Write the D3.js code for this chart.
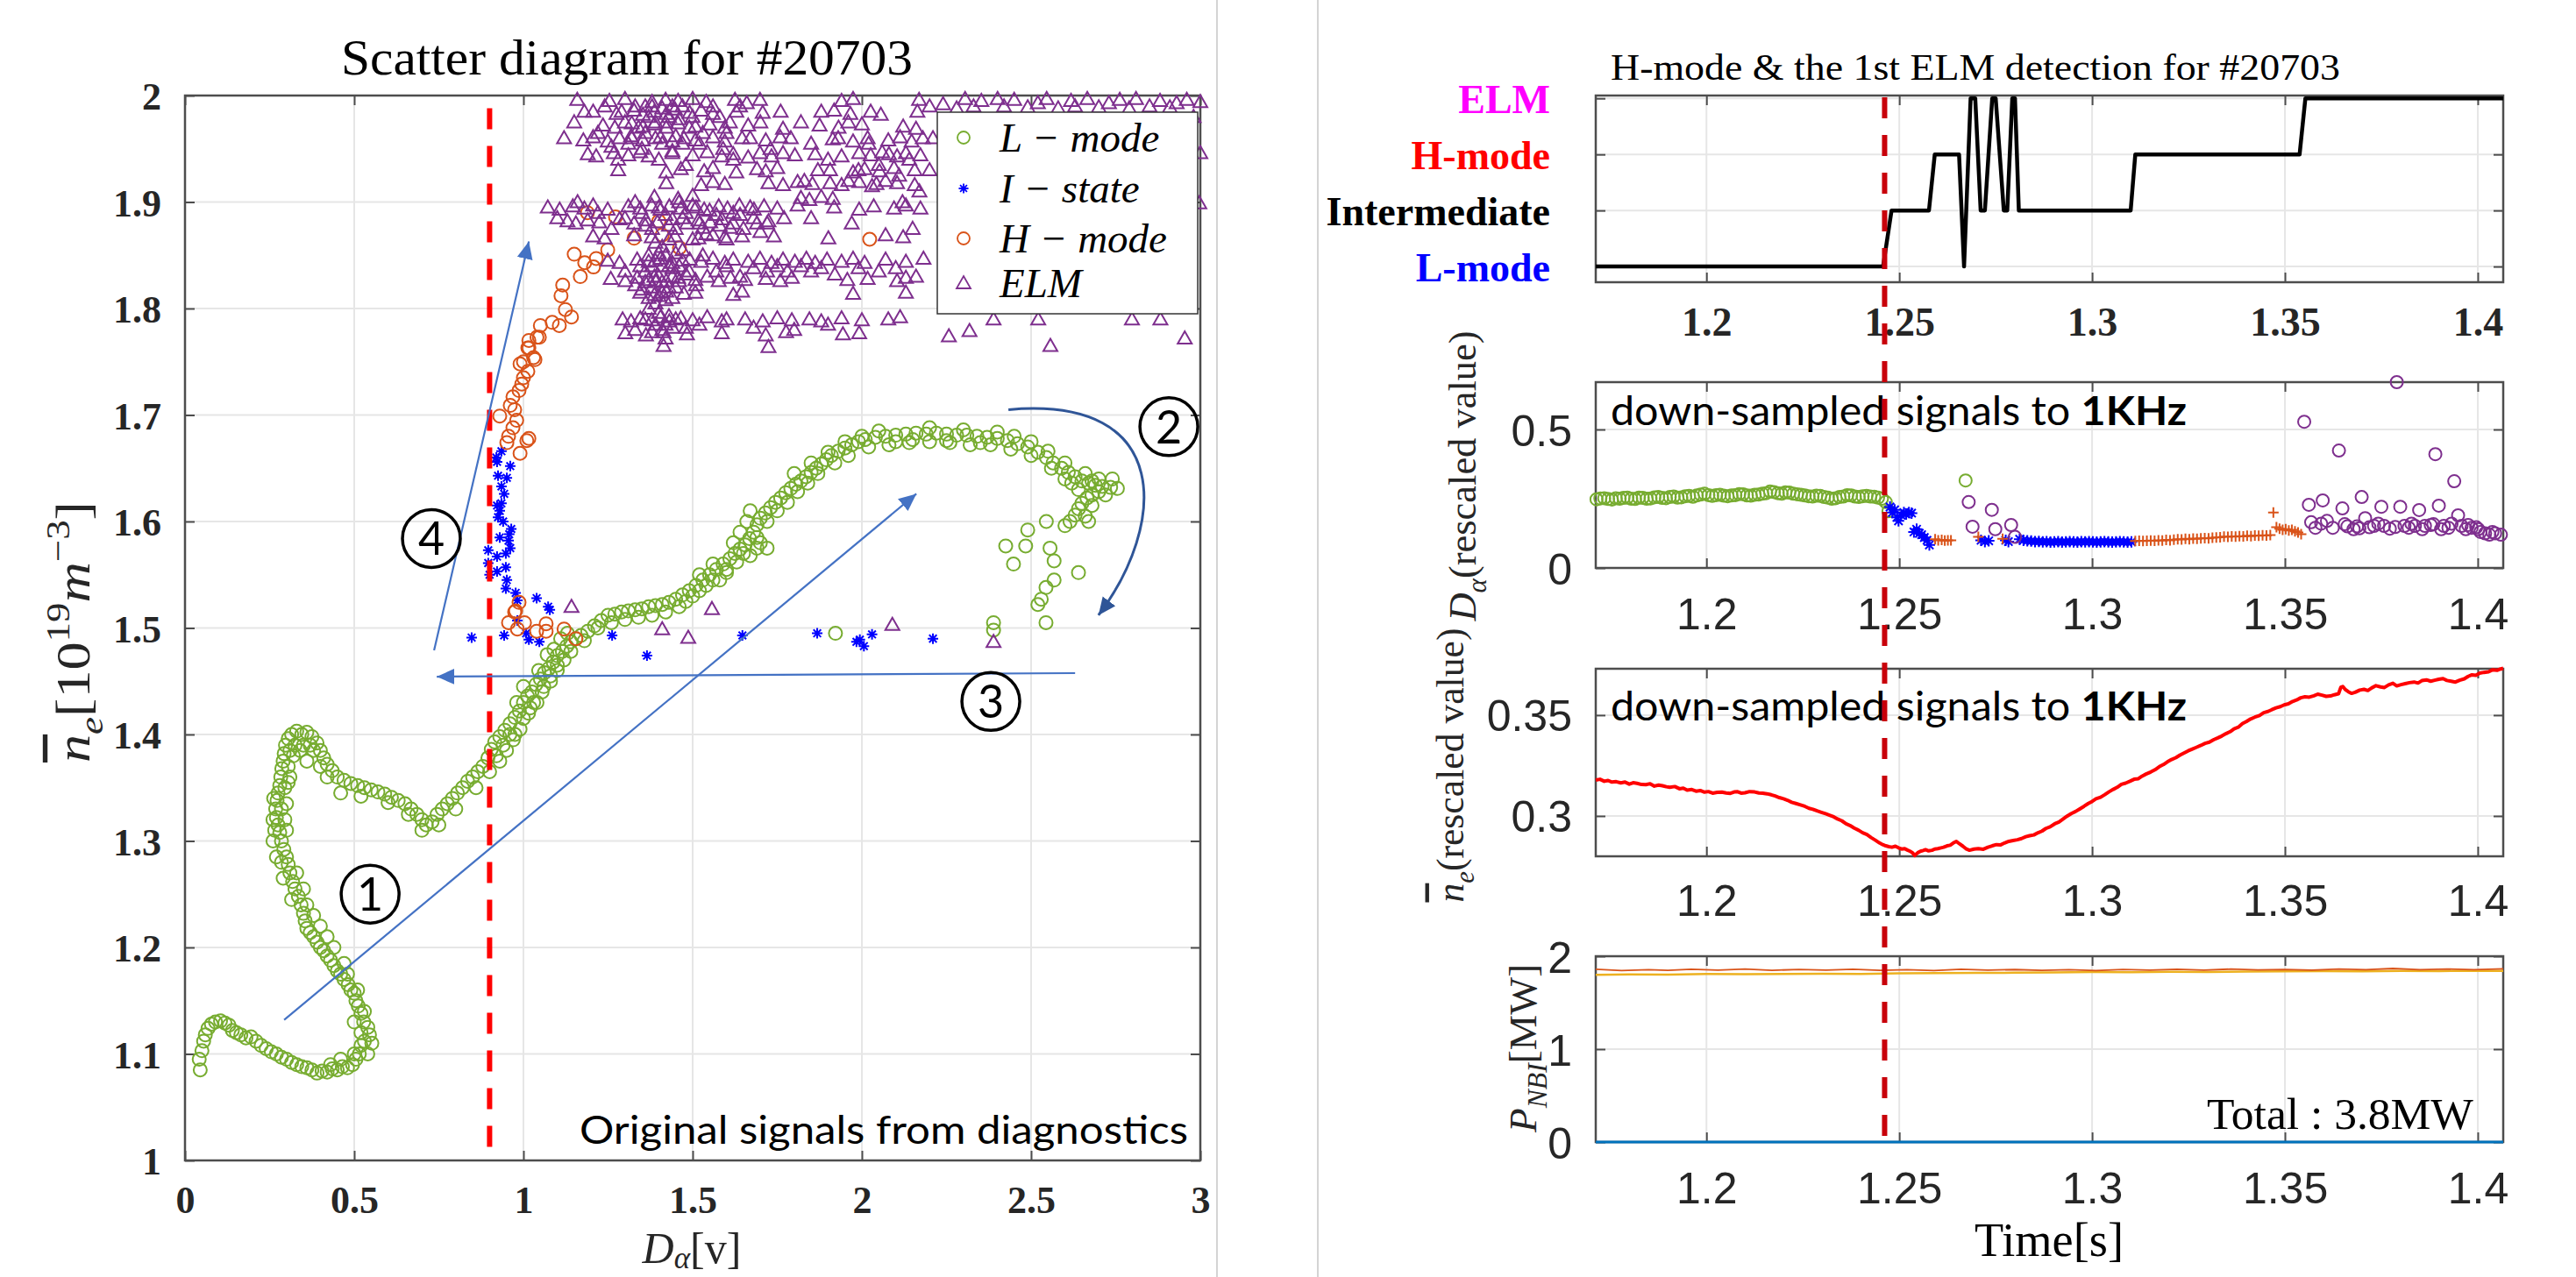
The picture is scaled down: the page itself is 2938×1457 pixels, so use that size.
<!DOCTYPE html>
<html lang="en">
<head>
<meta charset="UTF-8">
<title>Scatter diagram for #20703</title>
<script src="https://d3js.org/d3.v7.min.js"></script>
<style>
  body { margin: 0; background: #fff; }
</style>
</head>
<body>
<div id="chart"></div>
<script>
// ---------- left panel: scatter (D_alpha vs n_e) ----------
var scatterX = [0, 0.5, 1, 1.5, 2, 2.5, 3];
var scatterY = [1, 1.1, 1.2, 1.3, 1.4, 1.5, 1.6, 1.7, 1.8, 1.9, 2];
var legendNames = ["L − mode", "I − state", "H − mode", "ELM"];

var lMode = [
  [0.045,1.085],[0.042,1.095],[0.05,1.103],[0.055,1.112],[0.06,1.118],[0.068,1.124],[0.078,1.128],[0.09,1.13],[0.105,1.131],[0.118,1.129],
  [0.13,1.127],[0.14,1.122],[0.152,1.12],[0.165,1.118],[0.18,1.115],[0.195,1.116],[0.21,1.112],[0.225,1.108],[0.24,1.105],[0.255,1.102],
  [0.27,1.1],[0.285,1.097],[0.3,1.095],[0.315,1.092],[0.33,1.09],[0.345,1.088],[0.36,1.087],[0.375,1.085],[0.39,1.082],[0.405,1.084],
  [0.42,1.083],[0.435,1.086],[0.45,1.085],[0.465,1.088],[0.48,1.087],[0.495,1.09],[0.505,1.095],[0.515,1.1],[0.52,1.108],[0.53,1.112],
  [0.545,1.118],[0.552,1.11],[0.54,1.125],[0.528,1.13],[0.52,1.138],[0.512,1.145],[0.505,1.15],[0.5,1.157],[0.49,1.16],[0.482,1.165],
  [0.47,1.17],[0.46,1.175],[0.45,1.178],[0.44,1.183],[0.43,1.188],[0.42,1.192],[0.41,1.197],[0.4,1.2],[0.39,1.205],[0.38,1.21],
  [0.37,1.214],[0.36,1.218],[0.355,1.225],[0.35,1.232],[0.343,1.24],[0.335,1.248],[0.325,1.255],[0.318,1.262],[0.31,1.27],[0.305,1.278],
  [0.3,1.285],[0.292,1.292],[0.285,1.3],[0.28,1.308],[0.275,1.315],[0.27,1.322],[0.268,1.33],[0.272,1.338],[0.275,1.345],[0.28,1.352],
  [0.283,1.36],[0.286,1.368],[0.29,1.375],[0.293,1.382],[0.297,1.39],[0.305,1.396],[0.315,1.4],[0.33,1.403],[0.345,1.4],[0.36,1.402],
  [0.375,1.398],[0.39,1.392],[0.4,1.385],[0.41,1.378],[0.42,1.372],[0.435,1.366],[0.45,1.36],[0.47,1.357],[0.49,1.354],[0.51,1.352],
  [0.53,1.35],[0.55,1.348],[0.57,1.346],[0.59,1.344],[0.61,1.341],[0.63,1.338],[0.65,1.335],[0.668,1.33],[0.685,1.325],[0.7,1.32],
  [0.713,1.315],[0.73,1.318],[0.745,1.325],[0.76,1.33],[0.775,1.335],[0.79,1.34],[0.805,1.345],[0.82,1.35],[0.835,1.356],[0.85,1.36],
  [0.865,1.365],[0.88,1.37],[0.895,1.378],[0.905,1.386],[0.915,1.393],[0.93,1.398],[0.945,1.404],[0.96,1.41],[0.975,1.416],[0.988,1.422],
  [1.0,1.43],[1.012,1.436],[1.025,1.44],[1.037,1.447],[1.05,1.452],[1.062,1.458],[1.075,1.462],[1.088,1.468],[1.1,1.474],[1.115,1.478],
  [1.128,1.483],[1.14,1.487],[1.155,1.49],[1.17,1.493],[1.19,1.497],[1.21,1.502],[1.23,1.507],[1.25,1.512],[1.27,1.513],[1.29,1.515],
  [1.31,1.516],[1.33,1.517],[1.35,1.518],[1.37,1.52],[1.39,1.521],[1.41,1.522],[1.43,1.524],[1.45,1.527],[1.47,1.531],[1.49,1.535],
  [1.51,1.54],[1.53,1.545],[1.55,1.55],[1.57,1.555],[1.59,1.56],[1.61,1.565],[1.625,1.57],[1.64,1.574],[1.655,1.578],[1.668,1.584],
  [1.68,1.59],[1.69,1.597],[1.7,1.603],[1.715,1.608],[1.73,1.613],[1.745,1.618],[1.76,1.622],[1.775,1.627],[1.79,1.631],[1.805,1.635],
  [1.82,1.638],[1.835,1.642],[1.85,1.646],[1.865,1.65],[1.88,1.654],[1.895,1.658],[1.91,1.662],[1.93,1.666],[1.95,1.669],[1.97,1.672],
  [1.99,1.675],[2.01,1.677],[2.04,1.679],[2.07,1.68],[2.1,1.681],[2.13,1.682],[2.16,1.683],[2.19,1.682],[2.22,1.683],[2.25,1.682],
  [2.28,1.681],[2.31,1.681],[2.34,1.68],[2.37,1.679],[2.4,1.678],[2.43,1.676],[2.46,1.673],[2.49,1.67],[2.52,1.665],[2.545,1.66],
  [2.565,1.655],[2.59,1.65],[2.61,1.646],[2.63,1.642],[2.65,1.638],[2.67,1.636],[2.69,1.634],[2.71,1.633],[2.735,1.632],[2.755,1.631],
  [2.7,1.628],[2.68,1.625],[2.665,1.622],[2.65,1.617],[2.64,1.612],[2.63,1.606],[2.615,1.6],[2.6,1.596],
  [2.545,1.6],[2.49,1.592],[2.425,1.577],[2.484,1.577],[2.556,1.575],[2.568,1.563],[2.448,1.56],[2.64,1.552],[2.568,1.545],[2.544,1.538],
  [2.53,1.527],[2.52,1.522],[2.544,1.505],[2.389,1.505],[2.389,1.498],[1.922,1.495],
  [0.29,1.265],[0.315,1.245],[0.3,1.31],[0.285,1.33],[0.295,1.35],[0.305,1.37],[0.31,1.385],[0.325,1.39],[0.35,1.39],[0.38,1.385],
  [0.295,1.32],[0.26,1.3],[0.27,1.285],[0.285,1.28],[0.92,1.38],[0.94,1.39],[0.96,1.4],[0.97,1.395],[1.0,1.415],[1.02,1.425],
  [1.04,1.43],[1.06,1.445],[1.08,1.45],[1.1,1.46],[1.12,1.47],[1.045,1.46],[1.07,1.475],[1.09,1.48],[1.11,1.49],[1.13,1.495],
  [0.98,1.43],[1.0,1.445],[1.5,1.53],[1.52,1.55],[1.54,1.54],[1.56,1.56],[1.58,1.545],[1.6,1.555],[1.62,1.58],[1.64,1.59],
  [1.66,1.6],[1.67,1.61],[1.69,1.575],[1.7,1.58],[1.72,1.575],[1.67,1.568],[1.8,1.645],[1.85,1.655],[1.9,1.665],[1.95,1.675],
  [2.0,1.68],[2.05,1.685],[2.1,1.675],[2.15,1.677],[2.2,1.688],[2.25,1.676],[2.3,1.686],[2.35,1.674],[2.4,1.684],[2.45,1.68],
  [2.5,1.675],[2.55,1.666],[2.6,1.655],[2.62,1.636],[2.66,1.645],[2.7,1.64],[2.68,1.615],[2.66,1.605],
  [0.43,1.09],[0.46,1.095],[0.5,1.1],[0.52,1.12],[0.53,1.14],[0.51,1.16],[0.5,1.13],[0.54,1.1],[0.48,1.175],[0.47,1.185],
  [0.44,1.2],[0.42,1.21],[0.4,1.22],[0.38,1.23],[0.36,1.24],[0.35,1.255],[0.33,1.27],
  [0.26,1.32],[0.262,1.34],[0.265,1.31],[0.3,1.335],[0.305,1.355],[0.31,1.36],[0.32,1.38],[0.34,1.385],[0.37,1.39],[0.36,1.375],
  [0.4,1.37],[0.42,1.36],[0.46,1.345],[0.52,1.342],[0.6,1.336],[0.66,1.325],[0.7,1.31],[0.75,1.315],[0.8,1.33],[0.86,1.35],
  [0.9,1.365],[0.93,1.375],[0.95,1.385],[0.975,1.4],[0.99,1.405],[1.015,1.42],[1.03,1.43],[1.055,1.44],[1.08,1.455],[1.1,1.465],
  [1.14,1.478],[1.18,1.488],[1.22,1.5],[1.26,1.505],[1.3,1.508],[1.34,1.51],[1.38,1.512],[1.42,1.515],[1.46,1.52],[1.48,1.525],
  [1.52,1.535],[1.56,1.545],[1.6,1.552],[1.63,1.562],[1.65,1.57],[1.69,1.585],[1.72,1.6],[1.75,1.61],[1.78,1.618],[1.81,1.628],
  [1.84,1.636],[1.87,1.645],[1.92,1.655],[1.96,1.662],[2.02,1.67],[2.08,1.672],[2.14,1.674],[2.2,1.675],[2.26,1.674],[2.32,1.672],
  [2.38,1.672],[2.44,1.668],[2.5,1.662],[2.56,1.65],[2.6,1.64],[2.64,1.63],[2.68,1.638],[2.72,1.625],[2.74,1.64],[2.67,1.6]
];

var iState = [
  [0.935,1.666],[0.92,1.66],[0.922,1.656],[0.961,1.652],[0.925,1.643],[0.951,1.641],[0.935,1.633],[0.943,1.626],[0.922,1.615],[0.935,1.617],
  [0.925,1.604],[0.93,1.61],[0.964,1.593],[0.958,1.588],[0.956,1.582],[0.961,1.575],[0.896,1.573],[0.922,1.567],[0.948,1.57],[0.896,1.561],
  [0.922,1.553],[0.948,1.557],[0.951,1.545],[0.948,1.537],[0.977,1.533],[1.039,1.528],[0.982,1.526],[1.073,1.52],[1.078,1.517],[0.982,1.507],
  [0.847,1.491],[0.943,1.493],[1.008,1.495],[1.016,1.489],[1.047,1.487],[1.262,1.493],[1.365,1.474],[1.647,1.493],[1.868,1.495],[1.984,1.487],
  [1.994,1.489],[2.006,1.483],[2.03,1.494],[2.21,1.49],[0.9,1.55],[0.94,1.6],[0.93,1.585]
];

var hMode = [
  [1.047,1.773],[1.016,1.763],[1.034,1.752],[1.0,1.75],[1.013,1.741],[0.995,1.729],[0.987,1.723],[0.969,1.717],[0.961,1.709],[0.974,1.705],
  [0.93,1.699],[0.969,1.688],[0.956,1.68],[1.016,1.678],[0.99,1.664],[0.951,1.674],[1.01,1.676],[0.977,1.516],[0.956,1.505],[0.982,1.499],
  [1.003,1.505],[1.039,1.497],[1.067,1.504],[1.067,1.497],[1.12,1.499],[1.155,1.49],[0.987,1.524],[0.974,1.515],[0.99,1.748],[1.03,1.754],
  [1.013,1.763],[1.04,1.773],[1.05,1.784],[1.085,1.787],[1.106,1.784],[1.124,1.799],[1.142,1.792],[1.111,1.812],[1.116,1.822],[1.168,1.83],
  [1.15,1.851],[1.181,1.843],[1.207,1.839],[1.215,1.847],[1.249,1.855],[1.327,1.866],[1.41,1.869],[1.461,1.857],[1.189,1.89],[1.272,1.886],
  [1.40,1.882],[2.023,1.865],[1.016,1.77],[1.0,1.735],[0.98,1.695]
];

var elm = [
  [1.159,1.996],[1.254,1.995],[1.30,1.997],[1.38,1.994],[1.42,1.996],[1.457,1.995],[1.50,1.997],[1.54,1.994],[1.625,1.996],[1.66,1.993],
  [1.699,1.996],[1.94,1.995],[1.974,1.997],[2.169,1.996],[2.305,1.997],[2.353,1.995],[2.401,1.997],[2.45,1.996],[2.546,1.997],[2.618,1.995],
  [2.666,1.997],[2.762,1.996],[2.81,1.997],[2.881,1.995],[2.96,1.996],[3.0,1.994],
  [1.206,1.985],[1.275,1.983],[1.327,1.986],[1.353,1.982],[1.387,1.985],[1.422,1.983],[1.448,1.987],[1.491,1.984],[1.525,1.986],[1.56,1.983],
  [1.629,1.985],[1.707,1.984],[1.918,1.986],[1.966,1.983],[2.026,1.985],[2.056,1.982],[2.164,1.985],[2.28,1.988],[2.49,1.989],[2.58,1.988],
  [2.70,1.989],[2.79,1.988],[2.91,1.989],[2.98,1.98],
  [1.235,1.972],[1.27,1.97],[1.32,1.974],[1.353,1.971],[1.387,1.973],[1.422,1.97],[1.457,1.974],[1.508,1.971],[1.55,1.973],[1.595,1.97],
  [1.664,1.972],[1.767,1.969],[1.875,1.972],[1.931,1.97],[2.0,1.973],[2.122,1.971],[2.16,1.969],
  [1.12,1.96],[1.177,1.958],[1.206,1.961],[1.249,1.957],[1.284,1.96],[1.318,1.962],[1.353,1.958],[1.405,1.961],[1.44,1.957],[1.474,1.96],
  [1.508,1.958],[1.56,1.961],[1.595,1.957],[1.646,1.96],[1.716,1.958],[1.759,1.961],[1.914,1.959],[1.974,1.957],[2.017,1.96],[2.078,1.958],
  [2.113,1.961],[2.147,1.957],
  [1.19,1.945],[1.215,1.943],[1.267,1.946],[1.31,1.944],[1.345,1.947],[1.37,1.943],[1.44,1.946],[1.5,1.944],[1.543,1.947],[1.586,1.943],
  [1.62,1.945],[1.664,1.942],[1.699,1.946],[1.733,1.943],[1.767,1.946],[1.802,1.944],[1.862,1.945],[1.94,1.943],[1.992,1.946],[2.026,1.944],
  [2.06,1.947],[2.104,1.943],[2.13,1.946],[2.173,1.944],[2.97,1.948],[3.0,1.946],
  [1.28,1.93],[1.422,1.928],[1.465,1.931],[1.534,1.929],[1.56,1.932],[1.629,1.928],[1.69,1.931],[1.716,1.929],[1.75,1.932],[1.906,1.93],
  [1.974,1.928],[2.008,1.931],[2.052,1.929],[2.095,1.932],[2.156,1.93],
  [1.422,1.918],[1.525,1.916],[1.56,1.919],[1.595,1.917],[1.724,1.918],[1.767,1.916],[1.81,1.919],[1.854,1.917],[1.906,1.918],[1.94,1.916],
  [1.992,1.919],[2.043,1.917],[2.104,1.918],[2.156,1.916],
  [1.387,1.905],[1.457,1.903],[1.5,1.906],[1.82,1.904],[1.845,1.902],[1.88,1.905],[1.914,1.903],
  [1.3,1.975],[1.33,1.99],[1.36,1.965],[1.39,1.975],[1.41,1.955],[1.43,1.98],[1.45,1.962],[1.47,1.99],[1.49,1.97],[1.35,1.95],
  [1.4,1.94],[1.44,1.948],[1.32,1.96],[1.26,1.952],[1.28,1.94],[1.52,1.955],[1.6,1.965],[1.58,1.98],[1.48,1.935],[1.62,1.94],
  [1.38,1.99],[1.37,1.98],[1.41,1.988],[1.46,1.978],
  [1.15,1.975],[1.18,1.985],[1.22,1.965],[1.24,1.99],[1.29,1.985],[1.31,1.955],[1.34,1.97],[1.36,1.99],[1.39,1.96],[1.42,1.975],
  [1.44,1.99],[1.47,1.955],[1.5,1.98],[1.53,1.965],[1.56,1.99],[1.59,1.95],[1.61,1.975],[1.64,1.99],[1.67,1.96],[1.7,1.975],
  [1.73,1.95],[1.76,1.985],[1.79,1.96],[1.82,1.975],[1.85,1.955],[1.88,1.985],[1.9,1.94],[1.93,1.96],[1.96,1.975],[1.99,1.93],
  [2.02,1.955],[2.05,1.935],[2.08,1.945],[2.11,1.925],[2.14,1.94],[2.18,1.96],[2.2,1.99],[2.24,1.992],[2.33,1.99],[2.42,1.99],
  [2.52,1.993],[2.63,1.99],[2.73,1.993],[2.85,1.99],[2.93,1.993],[1.83,1.92],[1.87,1.93],[1.96,1.92],[2.03,1.915],[2.07,1.92],
  [2.12,1.9],[2.17,1.91],[2.2,1.93],[2.21,1.96],
  [1.072,1.895],[1.107,1.893],[1.146,1.896],[1.18,1.894],[1.206,1.897],[1.249,1.893],[1.31,1.896],[1.345,1.894],[1.379,1.897],[1.405,1.893],
  [1.431,1.896],[1.465,1.894],[1.5,1.897],[1.534,1.893],[1.577,1.896],[1.603,1.894],[1.638,1.897],[1.681,1.893],[1.711,1.896],[1.75,1.894],
  [1.81,1.897],[1.918,1.895],[1.992,1.893],[2.035,1.896],[2.095,1.894],[2.13,1.897],[2.173,1.894],[2.997,1.899],
  [1.13,1.882],[1.155,1.88],[1.19,1.883],[1.224,1.881],[1.284,1.884],[1.327,1.88],[1.362,1.883],[1.396,1.881],[1.44,1.884],[1.483,1.88],
  [1.517,1.883],[1.552,1.881],[1.586,1.884],[1.62,1.88],[1.724,1.882],
  [1.206,1.868],[1.24,1.866],[1.327,1.869],[1.379,1.867],[1.448,1.868],[1.517,1.866],[1.56,1.869],[1.595,1.867],[1.646,1.868],[1.901,1.866],
  [2.07,1.869],[2.122,1.867],
  [1.35,1.89],[1.38,1.875],[1.42,1.888],[1.45,1.875],[1.48,1.89],[1.52,1.88],[1.55,1.892],[1.58,1.878],[1.62,1.89],[1.65,1.875],
  [1.68,1.885],[1.7,1.872],[1.46,1.9],[1.5,1.865],[1.54,1.87],[1.6,1.865],[1.72,1.88],[1.74,1.868],
  [1.1,1.885],[1.16,1.9],[1.22,1.89],[1.26,1.875],[1.3,1.885],[1.33,1.9],[1.36,1.878],[1.4,1.895],[1.43,1.878],[1.47,1.885],
  [1.51,1.895],[1.53,1.876],[1.57,1.888],[1.61,1.876],[1.64,1.888],[1.67,1.895],[1.69,1.88],[1.77,1.885],[1.85,1.885],[1.97,1.88],
  [2.15,1.875],
  [1.249,1.845],[1.284,1.843],[1.336,1.846],[1.37,1.844],[1.405,1.847],[1.44,1.843],[1.491,1.846],[1.525,1.844],[1.56,1.847],[1.595,1.843],
  [1.62,1.846],[1.664,1.844],[1.699,1.847],[1.733,1.843],[1.767,1.846],[1.802,1.844],[1.836,1.847],[1.862,1.843],[1.897,1.846],[1.94,1.844],
  [1.974,1.847],[2.008,1.843],[2.07,1.846],[2.13,1.844],[2.182,1.847],
  [1.258,1.828],[1.301,1.826],[1.336,1.829],[1.37,1.827],[1.387,1.83],[1.422,1.826],[1.457,1.829],[1.508,1.827],[1.543,1.83],[1.577,1.826],
  [1.612,1.829],[1.655,1.827],[1.716,1.828],[1.759,1.826],[1.793,1.829],[1.957,1.827],[2.017,1.828],[2.104,1.826],[2.13,1.829],
  [1.345,1.815],[1.387,1.813],[1.422,1.816],[1.474,1.814],[1.508,1.815],[1.62,1.813],[1.646,1.816],[1.974,1.814],[2.13,1.815],
  [1.36,1.835],[1.38,1.84],[1.4,1.83],[1.42,1.85],[1.44,1.838],[1.46,1.826],[1.38,1.82],[1.4,1.812],[1.43,1.82],[1.45,1.852],
  [1.47,1.845],[1.41,1.858],[1.37,1.85],[1.39,1.862],[1.43,1.865],[1.35,1.818],[1.42,1.808],[1.48,1.832],[1.39,1.826],[1.41,1.84],
  [1.44,1.83],[1.46,1.84],[1.4,1.852],[1.36,1.825],
  [1.3,1.835],[1.33,1.822],[1.345,1.84],[1.37,1.81],[1.39,1.845],[1.41,1.825],[1.43,1.84],[1.45,1.82],[1.47,1.855],[1.49,1.835],
  [1.51,1.822],[1.53,1.85],[1.57,1.835],[1.6,1.84],[1.64,1.83],[1.68,1.838],[1.72,1.835],[1.75,1.84],[1.78,1.835],[1.82,1.84],
  [1.85,1.835],[1.88,1.838],[1.92,1.832],[1.99,1.838],[2.05,1.835],[2.1,1.838],[2.16,1.83],[1.39,1.805],[1.41,1.815],[1.44,1.81],
  [1.293,1.79],[1.318,1.788],[1.345,1.791],[1.379,1.789],[1.405,1.792],[1.431,1.788],[1.465,1.791],[1.5,1.789],[1.543,1.792],[1.586,1.788],
  [1.655,1.79],[1.707,1.788],[1.75,1.791],[1.793,1.789],[1.845,1.79],[1.88,1.788],[1.94,1.791],[2.0,1.789],[2.078,1.79],[2.113,1.792],
  [1.301,1.777],[1.362,1.775],[1.414,1.778],[1.483,1.776],[1.586,1.777],[1.716,1.775],[1.776,1.778],[1.944,1.776],[1.992,1.777],
  [1.414,1.765],[1.724,1.764],
  [1.39,1.785],[1.41,1.78],[1.43,1.793],[1.4,1.796],[1.42,1.772],[1.44,1.782],[1.37,1.8],[1.38,1.778],
  [1.33,1.78],[1.36,1.79],[1.42,1.785],[1.45,1.79],[1.48,1.782],[1.52,1.785],[1.6,1.79],[1.68,1.782],[1.8,1.78],[1.9,1.785],
  [2.257,1.774],[2.318,1.779],[2.389,1.79],[2.521,1.79],[2.557,1.765],[2.798,1.79],[2.882,1.79],[2.954,1.772],
  [1.142,1.52],[1.41,1.499],[1.487,1.491],[1.557,1.518],[2.09,1.503],[2.389,1.487]
];

// annotation arrows (data coordinates)
var straightArrows = [
  { from: [0.293, 1.132], to: [2.161, 1.626] },
  { from: [2.63, 1.4576], to: [0.744, 1.4543] },
  { from: [0.736, 1.479], to: [1.016, 1.863] }
];
var curvedArrow = [[2.433, 1.705], [2.925, 1.719], [2.899, 1.596], [2.699, 1.512]];
var circledNums = [
  { n: "1", x: 0.547, y: 1.25 },
  { n: "2", x: 2.907, y: 1.689 },
  { n: "3", x: 2.381, y: 1.431 },
  { n: "4", x: 0.728, y: 1.584 }
];
var thresholdDa = 0.9;

// ---------- right panels: time traces ----------
var timeTicks = [1.2, 1.25, 1.3, 1.35, 1.4];
var stateNames = ["L-mode", "Intermediate", "H-mode", "ELM"];
var stateColors = ["#0000FF", "#000000", "#FF0000", "#FF00FF"];
var firstElmTime = 1.2462;

var stateTrace = [
  [1.1713,0],[1.2458,0],[1.248,1],[1.2577,1],[1.2592,2],[1.2655,2],[1.2668,0],[1.2685,3],[1.2697,3],[1.2711,1],
  [1.2722,1],[1.2741,3],[1.275,3],[1.2771,1],[1.278,1],[1.2793,3],[1.28,3],[1.281,1],[1.31,1],[1.3112,2],
  [1.3538,2],[1.3553,3],[1.4066,3]
];

var daL = [
  [1.1715,0.248],[1.1725,0.251],[1.1735,0.252],[1.1745,0.249],[1.1755,0.247],[1.1765,0.252],[1.1775,0.25],[1.1785,0.253],[1.1795,0.254],[1.1805,0.25],
  [1.1815,0.249],[1.1825,0.254],[1.1835,0.253],[1.1845,0.25],[1.1855,0.251],[1.1865,0.255],[1.1875,0.256],[1.1885,0.253],[1.1895,0.252],[1.1905,0.256],
  [1.1915,0.258],[1.1925,0.254],[1.1935,0.255],[1.1945,0.259],[1.1955,0.26],[1.1965,0.257],[1.1975,0.262],[1.1985,0.265],[1.1995,0.268],[1.2005,0.263],
  [1.2015,0.26],[1.2025,0.263],[1.2035,0.264],[1.2045,0.261],[1.2055,0.259],[1.2065,0.262],[1.2075,0.263],[1.2085,0.267],[1.2095,0.266],[1.2105,0.262],
  [1.2115,0.261],[1.2125,0.264],[1.2135,0.265],[1.2145,0.268],[1.2155,0.27],[1.2165,0.276],[1.2175,0.274],[1.2185,0.27],[1.2195,0.268],[1.2205,0.273],
  [1.2215,0.272],[1.2225,0.268],[1.2235,0.266],[1.2245,0.264],[1.2255,0.262],[1.2265,0.259],[1.2275,0.258],[1.2285,0.261],[1.2295,0.26],[1.2305,0.256],
  [1.2315,0.254],[1.2325,0.25],[1.2335,0.252],[1.2345,0.256],[1.2355,0.258],[1.2365,0.263],[1.2375,0.262],[1.2385,0.258],[1.2395,0.256],[1.2405,0.259],
  [1.2415,0.26],[1.2425,0.258],[1.2435,0.257],[1.2445,0.254],[1.2455,0.25],[1.2465,0.238],[1.2472,0.205],[1.2672,0.316]
];
var daI = [
  [1.2476,0.22],[1.2482,0.2],[1.2488,0.21],[1.2494,0.183],[1.2498,0.17],[1.2505,0.19],[1.2512,0.2],[1.2518,0.195],[1.2525,0.2],[1.2532,0.198],
  [1.2538,0.13],[1.2545,0.14],[1.2552,0.125],[1.2558,0.12],[1.2565,0.11],[1.2572,0.1],[1.2578,0.083],[1.2712,0.1],[1.2722,0.095],[1.2732,0.098],
  [1.2776,0.1],[1.2783,0.095],[1.2812,0.104],[1.2822,0.1],[1.2832,0.098],[1.2842,0.097],[1.2852,0.095],[1.2862,0.096],[1.2872,0.094],[1.2882,0.095],
  [1.2892,0.093],[1.2902,0.094],[1.2912,0.095],[1.2922,0.093],[1.2932,0.094],[1.2942,0.095],[1.2952,0.094],[1.2962,0.093],[1.2972,0.095],[1.2982,0.094],
  [1.2992,0.095],[1.3002,0.094],[1.3012,0.093],[1.3022,0.094],[1.3032,0.095],[1.3042,0.094],[1.3052,0.093],[1.3062,0.094],[1.3072,0.095],[1.3082,0.094],
  [1.3092,0.093],[1.3102,0.094]
];
var daH = [
  [1.2593,0.104],[1.2601,0.1],[1.261,0.101],[1.2618,0.099],[1.2626,0.1],[1.2634,0.1],[1.2705,0.112],[1.2768,0.105],
  [1.3112,0.097],[1.3122,0.098],[1.3132,0.097],[1.3142,0.098],[1.3152,0.099],[1.3162,0.098],[1.3172,0.1],[1.3182,0.099],[1.3192,0.101],[1.3202,0.1],
  [1.3212,0.102],[1.3222,0.104],[1.3232,0.103],[1.3242,0.105],[1.3252,0.104],[1.3262,0.106],[1.3272,0.105],[1.3282,0.107],[1.3292,0.108],[1.3302,0.107],
  [1.3312,0.109],[1.3322,0.11],[1.3332,0.111],[1.3342,0.113],[1.3352,0.112],[1.3362,0.114],[1.3372,0.113],[1.3382,0.115],[1.3392,0.114],[1.3402,0.116],
  [1.3412,0.115],[1.3422,0.117],[1.3432,0.116],[1.3442,0.118],[1.3452,0.117],[1.3462,0.119],
  [1.347,0.2],[1.3478,0.147],[1.3486,0.142],[1.3494,0.138],[1.3502,0.14],[1.351,0.135],[1.3518,0.138],[1.3526,0.132],[1.3534,0.128],[1.3542,0.122]
];
var daE = [
  [1.268,0.238],[1.269,0.149],[1.274,0.21],[1.2749,0.14],[1.279,0.155],[1.28,0.112],
  [1.355,0.528],[1.3562,0.228],[1.3568,0.165],[1.3579,0.145],[1.3598,0.244],[1.3609,0.17],[1.3624,0.145],[1.364,0.424],[1.3649,0.215],[1.3662,0.15],
  [1.3678,0.14],[1.3687,0.15],[1.3699,0.256],[1.3708,0.18],[1.3719,0.147],[1.3731,0.152],[1.375,0.221],[1.3757,0.152],[1.3772,0.142],[1.379,0.671],
  [1.3799,0.221],[1.381,0.152],[1.3821,0.145],[1.3837,0.152],[1.3848,0.209],[1.3863,0.152],[1.3878,0.155],[1.389,0.411],[1.3899,0.225],[1.3912,0.152],
  [1.3924,0.145],[1.3939,0.313],[1.3949,0.19],[1.3958,0.152],[1.3969,0.14],[1.3984,0.145],[1.3996,0.147],[1.4007,0.13],[1.4019,0.125],[1.403,0.12],
  [1.4045,0.125],[1.406,0.12],[1.3594,0.16],[1.3655,0.158],[1.3693,0.143],[1.3742,0.16],[1.3786,0.148],[1.3828,0.16],[1.3856,0.14],[1.3885,0.158],
  [1.3905,0.14],[1.3932,0.16],[1.3975,0.155],[1.4001,0.14],[1.4038,0.13]
];

var neTrace = [
  [1.1713,0.3178],[1.1724,0.3182],[1.1735,0.3172],[1.1745,0.3176],[1.1755,0.3168],[1.1766,0.317],[1.1778,0.3164],[1.1789,0.3168],[1.18,0.3158],[1.181,0.3165],
  [1.182,0.3162],[1.1832,0.3156],[1.1843,0.3155],[1.1854,0.316],[1.1865,0.3148],[1.1876,0.3153],[1.1886,0.315],[1.1896,0.3145],[1.1905,0.3142],[1.1918,0.3146],
  [1.193,0.3135],[1.194,0.3138],[1.195,0.3128],[1.1962,0.3131],[1.1973,0.3123],[1.1984,0.3126],[1.1995,0.3118],[1.2005,0.3121],[1.2016,0.3113],[1.2028,0.3117],
  [1.204,0.3118],[1.2051,0.3114],[1.2062,0.3112],[1.2072,0.3119],[1.2081,0.312],[1.209,0.3113],[1.21,0.3115],[1.2112,0.3121],[1.2125,0.3119],[1.2136,0.3114],
  [1.2146,0.3113],[1.2157,0.311],[1.2168,0.3105],[1.2178,0.3099],[1.2189,0.3091],[1.22,0.3085],[1.221,0.3078],[1.2221,0.3068],[1.2232,0.3062],[1.2244,0.3055],
  [1.2255,0.3048],[1.2266,0.3038],[1.2276,0.3033],[1.2287,0.3025],[1.2298,0.3018],[1.2309,0.3011],[1.2319,0.3004],[1.233,0.2996],[1.234,0.2985],[1.2351,0.2976],
  [1.2362,0.2961],[1.2372,0.2953],[1.2383,0.294],[1.2394,0.293],[1.2405,0.2917],[1.2416,0.2908],[1.2427,0.2893],[1.2438,0.288],[1.2449,0.2866],[1.2457,0.2858],
  [1.2465,0.2852],[1.2473,0.2848],[1.2481,0.2845],[1.249,0.285],[1.2498,0.2842],[1.2506,0.2836],[1.2514,0.2838],[1.2521,0.2831],[1.2528,0.2825],[1.2534,0.2818],
  [1.254,0.2804],[1.2548,0.2818],[1.2555,0.2825],[1.2562,0.2829],[1.2568,0.2833],[1.2576,0.2827],[1.2585,0.283],[1.2592,0.2836],[1.26,0.2838],[1.2608,0.2842],
  [1.2615,0.2845],[1.2624,0.2852],[1.2632,0.2855],[1.264,0.2866],[1.2648,0.2874],[1.2656,0.2862],[1.2665,0.285],[1.2674,0.2836],[1.2682,0.283],[1.2694,0.2836],
  [1.2705,0.2838],[1.2718,0.2835],[1.273,0.2845],[1.2741,0.2852],[1.2752,0.2858],[1.2762,0.2856],[1.2773,0.2866],[1.2784,0.2874],[1.2795,0.2878],[1.2806,0.2882],
  [1.2817,0.2888],[1.2828,0.2897],[1.2838,0.2902],[1.2849,0.2906],[1.286,0.2917],[1.287,0.2925],[1.288,0.2938],[1.2891,0.2946],[1.2903,0.2961],[1.2914,0.297],
  [1.2925,0.2985],[1.2935,0.2999],[1.2946,0.3012],[1.2957,0.3022],[1.2968,0.3035],[1.2979,0.3048],[1.299,0.3062],[1.3,0.3072],[1.301,0.3085],[1.3022,0.3093],
  [1.3033,0.3106],[1.3044,0.312],[1.3055,0.3132],[1.3065,0.3142],[1.3076,0.3157],[1.3087,0.3163],[1.3098,0.3172],[1.3109,0.3182],[1.312,0.3185],[1.313,0.3198],
  [1.314,0.3208],[1.3152,0.3218],[1.3163,0.3229],[1.3174,0.3244],[1.3185,0.3255],[1.3195,0.3268],[1.3206,0.328],[1.3217,0.3289],[1.3228,0.3302],[1.3238,0.3312],
  [1.3249,0.3323],[1.326,0.3332],[1.327,0.334],[1.3282,0.335],[1.3293,0.336],[1.3304,0.3366],[1.3315,0.3378],[1.3326,0.3387],[1.3336,0.3396],[1.3347,0.3408],
  [1.3358,0.3418],[1.3368,0.3432],[1.3379,0.344],[1.339,0.3458],[1.34,0.3468],[1.3411,0.3481],[1.3422,0.349],[1.3434,0.3498],[1.3445,0.3512],[1.3456,0.3518],
  [1.3466,0.3527],[1.3477,0.3536],[1.3488,0.3542],[1.3498,0.3551],[1.3509,0.3556],[1.352,0.3568],[1.353,0.3575],[1.3541,0.3586],[1.3552,0.3591],[1.3563,0.3589],
  [1.3575,0.3596],[1.3585,0.3604],[1.3596,0.3599],[1.3607,0.3593],[1.3618,0.3595],[1.3628,0.3601],[1.3639,0.3606],[1.3645,0.3638],[1.365,0.3642],[1.3657,0.3626],
  [1.3665,0.3615],[1.3673,0.3608],[1.3682,0.3613],[1.3694,0.3624],[1.3705,0.3628],[1.3715,0.3622],[1.3725,0.3635],[1.3736,0.3646],[1.3748,0.364],[1.3758,0.3637],
  [1.3769,0.365],[1.378,0.3658],[1.379,0.3645],[1.3801,0.3651],[1.3812,0.3656],[1.3823,0.3661],[1.3835,0.3664],[1.3845,0.3659],[1.3855,0.3671],[1.3867,0.3675],
  [1.3878,0.3668],[1.3888,0.3673],[1.3899,0.3678],[1.391,0.3681],[1.392,0.3672],[1.3931,0.3668],[1.3942,0.3664],[1.3953,0.3673],[1.3965,0.368],[1.3975,0.3692],
  [1.3985,0.37],[1.3995,0.3697],[1.4005,0.3708],[1.4016,0.3712],[1.4028,0.3715],[1.4039,0.3725],[1.405,0.3722],[1.4058,0.3728],[1.4066,0.3732]
];

var nbiA = [
  [1.1713,1.86],[1.178,1.845],[1.185,1.855],[1.19,1.848],[1.196,1.86],[1.203,1.85],[1.21,1.862],[1.217,1.848],[1.224,1.858],[1.231,1.85],
  [1.238,1.86],[1.245,1.848],[1.252,1.855],[1.259,1.845],[1.266,1.86],[1.273,1.85],[1.28,1.856],[1.287,1.848],[1.294,1.855],[1.301,1.846],
  [1.308,1.858],[1.315,1.85],[1.322,1.86],[1.329,1.85],[1.336,1.862],[1.343,1.852],[1.35,1.858],[1.357,1.85],[1.364,1.862],[1.371,1.855],
  [1.378,1.868],[1.385,1.855],[1.392,1.862],[1.399,1.855],[1.4066,1.865]
];
var nbiB = [
  [1.1713,1.8],[1.18,1.805],[1.19,1.802],[1.2,1.808],[1.21,1.806],[1.22,1.81],[1.23,1.812],[1.24,1.81],[1.25,1.815],[1.26,1.818],
  [1.27,1.82],[1.28,1.822],[1.29,1.825],[1.3,1.83],[1.31,1.828],[1.32,1.832],[1.33,1.83],[1.34,1.835],[1.35,1.838],[1.36,1.84],
  [1.37,1.838],[1.38,1.842],[1.39,1.84],[1.4,1.845],[1.4066,1.842]
];
var nbiC = [[1.1713,0],[1.4066,0]];

// ---------- drawing ----------
var SERIF = '"Liberation Serif","Times New Roman",serif';
var SANS = '"Liberation Sans",Arial,sans-serif';
var CAL = 'Lato,"Open Sans",sans-serif';
var cGreen = "#77AC30", cBlue = "#0000FF", cOrange = "#D95319", cPurple = "#7E2F8E";

var svg = d3.select("#chart").append("svg")
  .attr("width", 2938).attr("height", 1457).style("display", "block");
svg.append("rect").attr("width", 2938).attr("height", 1457).attr("fill", "#fff");

[1388, 1503].forEach(function(px) {
  svg.append("line").attr("x1", px).attr("x2", px).attr("y1", 0).attr("y2", 1457)
    .attr("stroke", "#d4d4d4").attr("stroke-width", 2);
});

var defs = svg.append("defs");
function arrowMarker(id, col) {
  defs.append("marker").attr("id", id).attr("markerUnits", "userSpaceOnUse")
    .attr("markerWidth", 22).attr("markerHeight", 20).attr("refX", 20).attr("refY", 9)
    .attr("orient", "auto")
    .append("path").attr("d", "M0,0L20,9L0,18Z").attr("fill", col);
}
arrowMarker("arrA", "#4472C4");
arrowMarker("arrB", "#2F5597");

// axes frame: grid, inward ticks on 4 sides, box
function frame(g, x, y, xt, yt, o) {
  var xr = x.range(), yr = y.range();
  var xa = xr[0], xb = xr[1], yb = yr[0], ya = yr[1];
  g.append("g").selectAll("line").data(xt).join("line")
    .attr("x1", x).attr("x2", x).attr("y1", ya).attr("y2", yb)
    .attr("stroke", "#e6e6e6").attr("stroke-width", 2);
  g.append("g").selectAll("line").data(yt).join("line")
    .attr("y1", y).attr("y2", y).attr("x1", xa).attr("x2", xb)
    .attr("stroke", "#e6e6e6").attr("stroke-width", 2);
  var tk = 11;
  var bottom = g.append("g").attr("transform", "translate(0," + yb + ")")
    .call(d3.axisBottom(x).tickValues(xt).tickSizeInner(-tk).tickSizeOuter(0).tickFormat(o.xf || String));
  var top = g.append("g").attr("transform", "translate(0," + ya + ")")
    .call(d3.axisTop(x).tickValues(xt).tickSizeInner(-tk).tickSizeOuter(0).tickFormat(""));
  var left = g.append("g").attr("transform", "translate(" + xa + ",0)")
    .call(d3.axisLeft(y).tickValues(yt).tickSizeInner(-tk).tickSizeOuter(0).tickPadding(o.ypad).tickFormat(o.yf || String));
  var right = g.append("g").attr("transform", "translate(" + xb + ",0)")
    .call(d3.axisRight(y).tickValues(yt).tickSizeInner(-tk).tickSizeOuter(0).tickFormat(""));
  [bottom, top, left, right].forEach(function(a) {
    a.select(".domain").remove();
    a.selectAll("line").attr("stroke", "#4d4d4d").attr("stroke-width", 2);
  });
  bottom.selectAll("text").attr("y", o.xlab).attr("dy", "0.36em").attr("fill", "#262626")
    .style("font-family", o.font).style("font-size", o.fs + "px").style("font-weight", o.fw || "normal");
  left.selectAll("text").attr("dy", "0.36em").attr("fill", "#262626")
    .style("font-family", o.font).style("font-size", (o.yfs || o.fs) + "px").style("font-weight", o.fw || "normal");
  g.append("rect").attr("x", xa).attr("y", ya).attr("width", xb - xa).attr("height", yb - ya)
    .attr("fill", "none").attr("stroke", "#4d4d4d").attr("stroke-width", 2.5);
  return { bottom: bottom, left: left };
}

// rich text with italic / sub / sup / overline parts
function rich(t, parts, size, subShift) {
  var cur = 0, sb = subShift || 0.28;
  parts.forEach(function(p) {
    var off = p.sub ? sb * size : (p.sup ? -0.42 * size : 0);
    var ts = t.append("tspan").attr("dy", off - cur).text(p.t);
    cur = off;
    if (p.sub || p.sup) ts.attr("font-size", 0.7 * size);
    if (p.it) ts.attr("font-style", "italic");
    if (p.over) ts.attr("text-decoration", "overline");
  });
  return t;
}
function vLabel(g, parts, cx, cy, size, len) {
  var t = g.append("text")
    .attr("transform", "translate(" + (cx + 0.33 * size) + "," + cy + ") rotate(-90)")
    .attr("text-anchor", "middle").attr("font-family", SERIF).attr("font-size", size)
    .attr("fill", "#262626");
  rich(t, parts, size);
  if (len) t.attr("textLength", len).attr("lengthAdjust", "spacingAndGlyphs");
  return t;
}
function plainText(g, str, x, y, size, family, anchor, len) {
  var t = g.append("text").attr("x", x).attr("y", y).attr("font-family", family)
    .attr("font-size", size).attr("text-anchor", anchor || "start").attr("fill", "#000").text(str);
  if (len) t.attr("textLength", len).attr("lengthAdjust", "spacingAndGlyphs");
  return t;
}

var triPath = "M0,-8L8,6L-8,6Z";
function astPath(s) {
  var d = s * 0.72;
  return "M" + (-s) + ",0H" + s + "M0," + (-s) + "V" + s +
    "M" + (-d) + "," + (-d) + "L" + d + "," + d + "M" + (-d) + "," + d + "L" + d + "," + (-d);
}
function plusPath(s) { return "M" + (-s) + ",0H" + s + "M0," + (-s) + "V" + s; }

// ===== left scatter =====
var xL = d3.scaleLinear().domain([0, 3]).range([211, 1369]);
var yL = d3.scaleLinear().domain([1, 2]).range([1324, 109]);
var gL = svg.append("g");
frame(gL, xL, yL, scatterX, scatterY, { font: SERIF, fs: 44, fw: "bold", xlab: 44, ypad: 27 });

gL.append("g").selectAll("circle").data(lMode).join("circle")
  .attr("cx", function(d) { return xL(d[0]); }).attr("cy", function(d) { return yL(d[1]); })
  .attr("r", 7.5).attr("fill", "none").attr("stroke", cGreen).attr("stroke-width", 2);
gL.append("g").selectAll("path").data(iState).join("path")
  .attr("transform", function(d) { return "translate(" + xL(d[0]) + "," + yL(d[1]) + ")"; })
  .attr("d", astPath(6)).attr("stroke", cBlue).attr("stroke-width", 2).attr("fill", "none");
gL.append("g").selectAll("circle").data(hMode).join("circle")
  .attr("cx", function(d) { return xL(d[0]); }).attr("cy", function(d) { return yL(d[1]); })
  .attr("r", 7.5).attr("fill", "none").attr("stroke", cOrange).attr("stroke-width", 2);
gL.append("g").selectAll("path").data(elm).join("path")
  .attr("transform", function(d) { return "translate(" + xL(d[0]) + "," + yL(d[1]) + ")"; })
  .attr("d", triPath).attr("stroke", cPurple).attr("stroke-width", 2).attr("fill", "none");

// threshold line
gL.append("line").attr("x1", xL(thresholdDa)).attr("x2", xL(thresholdDa))
  .attr("y1", yL(1.988)).attr("y2", yL(1))
  .attr("stroke", "#FF0000").attr("stroke-width", 6).attr("stroke-dasharray", "24,19");

// arrows
gL.append("g").selectAll("line").data(straightArrows).join("line")
  .attr("x1", function(d) { return xL(d.from[0]); }).attr("y1", function(d) { return yL(d.from[1]); })
  .attr("x2", function(d) { return xL(d.to[0]); }).attr("y2", function(d) { return yL(d.to[1]); })
  .attr("stroke", "#4472C4").attr("stroke-width", 2.2).attr("marker-end", "url(#arrA)");
var cp = curvedArrow.map(function(p) { return [xL(p[0]), yL(p[1])]; });
gL.append("path")
  .attr("d", "M" + cp[0] + "C" + cp[1] + " " + cp[2] + " " + cp[3])
  .attr("fill", "none").attr("stroke", "#2F5597").attr("stroke-width", 3).attr("marker-end", "url(#arrB)");

var cn = gL.append("g").selectAll("g").data(circledNums).join("g")
  .attr("transform", function(d) { return "translate(" + xL(d.x) + "," + yL(d.y) + ")"; });
cn.append("circle").attr("r", 33).attr("fill", "none").attr("stroke", "#000").attr("stroke-width", 3.5);
cn.append("text").attr("text-anchor", "middle").attr("dy", "0.36em")
  .attr("font-family", CAL).attr("font-size", 52).attr("fill", "#000").text(function(d) { return d.n; });

// legend
var lg = gL.append("g");
lg.append("rect").attr("x", 1069).attr("y", 128).attr("width", 297).attr("height", 230)
  .attr("fill", "#fff").attr("stroke", "#333").attr("stroke-width", 1.5);
var legRows = [157, 215, 272, 323];
legendNames.forEach(function(name, i) {
  var mx = 1099, my = legRows[i];
  if (i === 0 || i === 2) {
    lg.append("circle").attr("cx", mx).attr("cy", my).attr("r", 7).attr("fill", "none")
      .attr("stroke", i === 0 ? cGreen : cOrange).attr("stroke-width", 1.8);
  } else if (i === 1) {
    lg.append("path").attr("transform", "translate(" + mx + "," + my + ")").attr("d", astPath(5.5))
      .attr("stroke", cBlue).attr("stroke-width", 1.8);
  } else {
    lg.append("path").attr("transform", "translate(" + mx + "," + my + ")").attr("d", triPath)
      .attr("stroke", cPurple).attr("stroke-width", 1.8).attr("fill", "none");
  }
  lg.append("text").attr("x", 1140).attr("y", my).attr("dy", "0.34em")
    .attr("font-family", SERIF).attr("font-style", "italic").attr("font-size", 47)
    .attr("fill", "#000").text(name);
});

// titles and labels (left)
plainText(svg, "Scatter diagram for #20703", 715, 85, 56, SERIF, "middle", 652);
plainText(svg, "Original signals from diagnostics", 661, 1305, 44, CAL, "start", 694);
vLabel(svg, [{ t: "n", it: 1, over: 1 }, { t: "e", it: 1, sub: 1 }, { t: "[10" }, { t: "19", sup: 1 },
  { t: "m", it: 1 }, { t: "−3", sup: 1 }, { t: "]" }], 84, 721, 54, 298);
rich(svg.append("text").attr("x", 789).attr("y", 1441).attr("text-anchor", "middle")
  .attr("font-family", SERIF).attr("font-size", 50).attr("fill", "#262626"),
  [{ t: "D", it: 1 }, { t: "α", it: 1, sub: 1 }, { t: "[v]" }], 50, 0.12);

// ===== right panels =====
var xR = d3.scaleLinear().domain([1.1713, 1.4066]).range([1820, 2855]);
var y1 = d3.scaleLinear().domain([-0.28, 3.05]).range([322, 109]);
var y2 = d3.scaleLinear().domain([0, 0.671]).range([648, 436]);
var y3 = d3.scaleLinear().domain([0.28, 0.373]).range([977, 763]);
var y4 = d3.scaleLinear().domain([0, 2]).range([1303, 1091]);

var g1 = svg.append("g");
var f1 = frame(g1, xR, y1, timeTicks, [0, 1, 2, 3],
  { font: SERIF, fs: 46, fw: "bold", xlab: 44, ypad: 52, yf: function(d) { return stateNames[d]; } });
f1.left.selectAll("text").attr("fill", function(d) { return stateColors[d]; });
g1.append("path").datum(stateTrace)
  .attr("d", d3.line().x(function(d) { return xR(d[0]); }).y(function(d) { return y1(d[1]); }))
  .attr("fill", "none").attr("stroke", "#000").attr("stroke-width", 4.5).attr("stroke-linejoin", "round");
plainText(svg, "H-mode & the 1st ELM detection for #20703", 2253, 91, 43, SERIF, "middle", 832);

var g2 = svg.append("g");
frame(g2, xR, y2, timeTicks, [0, 0.5], { font: SANS, fs: 50, xlab: 52, ypad: 27 });
g2.append("g").selectAll("circle").data(daL).join("circle")
  .attr("cx", function(d) { return xR(d[0]); }).attr("cy", function(d) { return y2(d[1]); })
  .attr("r", 7).attr("fill", "none").attr("stroke", cGreen).attr("stroke-width", 2);
g2.append("g").selectAll("path").data(daI).join("path")
  .attr("transform", function(d) { return "translate(" + xR(d[0]) + "," + y2(d[1]) + ")"; })
  .attr("d", astPath(6.5)).attr("stroke", cBlue).attr("stroke-width", 2).attr("fill", "none");
g2.append("g").selectAll("path").data(daH).join("path")
  .attr("transform", function(d) { return "translate(" + xR(d[0]) + "," + y2(d[1]) + ")"; })
  .attr("d", plusPath(6)).attr("stroke", cOrange).attr("stroke-width", 2).attr("fill", "none");
g2.append("g").selectAll("circle").data(daE).join("circle")
  .attr("cx", function(d) { return xR(d[0]); }).attr("cy", function(d) { return y2(d[1]); })
  .attr("r", 7).attr("fill", "none").attr("stroke", cPurple).attr("stroke-width", 2);
vLabel(svg, [{ t: "D", it: 1 }, { t: "α", it: 1, sub: 1 }, { t: "(rescaled value)" }], 1668, 543, 44, 331);

var g3 = svg.append("g");
frame(g3, xR, y3, timeTicks, [0.3, 0.35], { font: SANS, fs: 50, xlab: 50, ypad: 27 });
g3.append("path").datum(neTrace)
  .attr("d", d3.line().x(function(d) { return xR(d[0]); }).y(function(d) { return y3(d[1]); }))
  .attr("fill", "none").attr("stroke", "#FF0000").attr("stroke-width", 4).attr("stroke-linejoin", "round");
vLabel(svg, [{ t: "n", it: 1, over: 1 }, { t: "e", it: 1, sub: 1 }, { t: "(rescaled value)" }], 1654, 873, 44, 313);

var g4 = svg.append("g");
frame(g4, xR, y4, timeTicks, [0, 1, 2], { font: SANS, fs: 50, xlab: 52, ypad: 27 });
var line4 = d3.line().x(function(d) { return xR(d[0]); }).y(function(d) { return y4(d[1]); });
g4.append("path").datum(nbiC).attr("d", line4).attr("fill", "none").attr("stroke", "#0072BD").attr("stroke-width", 3);
g4.append("path").datum(nbiB).attr("d", line4).attr("fill", "none").attr("stroke", "#EDB120").attr("stroke-width", 2.5);
g4.append("path").datum(nbiA).attr("d", line4).attr("fill", "none").attr("stroke", "#D95319").attr("stroke-width", 1.8);
vLabel(svg, [{ t: "P", it: 1 }, { t: "NBI", it: 1, sub: 1 }, { t: "[MW]" }], 1737, 1196, 45, 192);
plainText(svg, "Total : 3.8MW", 2517, 1288, 50, SERIF, "start", 304);
plainText(svg, "Time[s]", 2337, 1433, 54, SERIF, "middle", 170);

// down-sampled notes
[485, 822].forEach(function(by) {
  var t = svg.append("text").attr("x", 1837).attr("y", by).attr("font-family", CAL)
    .attr("font-size", 46).attr("fill", "#000")
    .attr("textLength", 657).attr("lengthAdjust", "spacingAndGlyphs");
  t.append("tspan").text("down-sampled signals to ");
  t.append("tspan").attr("font-weight", "bold").text("1KHz");
});

// first ELM / H-mode detection marker across right panels
svg.append("line").attr("x1", xR(firstElmTime)).attr("x2", xR(firstElmTime))
  .attr("y1", y1(3.02)).attr("y2", y4(0))
  .attr("stroke", "#C8000A").attr("stroke-width", 6).attr("stroke-dasharray", "24,19");
</script>
</body>
</html>
